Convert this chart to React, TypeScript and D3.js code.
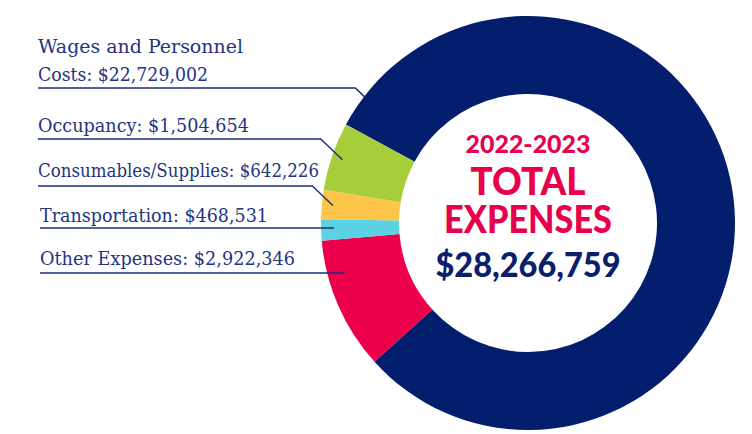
import React from 'react';
import * as d3 from 'd3';

// expense categories in drawing order (clockwise from the wages slice)
const categories = ['Wages and Personnel Costs', 'Other Expenses', 'Transportation', 'Consumables/Supplies', 'Occupancy'];
const values = [22729002, 2922346, 468531, 642226, 1504654];
const colors = ['#021e6c', '#ec004b', '#5ad2e4', '#fdc64b', '#a6ce3a'];
const labelLines = [
  ['Wages and Personnel', 'Costs: $22,729,002'],
  ['Other Expenses: $2,922,346'],
  ['Transportation: $468,531'],
  ['Consumables/Supplies: $642,226'],
  ['Occupancy: $1,504,654'],
];
const centerLines = ['2022-2023', 'TOTAL', 'EXPENSES', '$28,266,759'];

const W = 752;
const H = 434;
const cx = 528;
const cy = 223;
const outerR = 207;
const innerR = 129;
const startDeg = -61.6;

// label layout: baseline of last line, underline y, text widths
const labelBase = [81, 265, 222, 177, 132];
const underY = [88, 273, 228, 186, 139];
const labelX = [38, 40, 40, 38, 38];
const labelW = [[205, 170], [255], [228], [281], [211]];
// where the leader points inside each slice (fraction along the slice), null = horizontal
const leaderT: (number | null)[] = [0.032, null, null, 0.5, 0.5];
const leaderR = [206, 190, 194, 196, 196];

const navy = '#1d2c78';

export default function App() {
  const pie = d3.pie<number>()
    .sort(null)
    .value(d => d)
    .startAngle((startDeg * Math.PI) / 180)
    .endAngle((startDeg * Math.PI) / 180 + Math.PI * 2);
  const arcs = pie(values);
  const arc = d3.arc<d3.PieArcDatum<number>>().innerRadius(innerR).outerRadius(outerR);

  const leaders = arcs.map((a, i) => {
    const t = leaderT[i];
    const r = leaderR[i];
    const y0 = underY[i];
    if (t === null) {
      const dy = y0 - cy;
      const ex = cx - Math.sqrt(r * r - dy * dy);
      return `M${labelX[i]},${y0}H${ex}`;
    }
    const ang = a.startAngle + (a.endAngle - a.startAngle) * t;
    const ex = cx + r * Math.sin(ang);
    const ey = cy - r * Math.cos(ang);
    const elbow = ex - (ey - y0) * 1.05;
    return `M${labelX[i]},${y0}H${elbow}L${ex},${ey}`;
  });

  return (
    <svg width={W} height={H} style={{ position: 'absolute', left: 0, top: 0, background: '#fff' }}>
      <g transform={`translate(${cx},${cy})`}>
        {arcs.map((a, i) => (
          <path key={categories[i]} d={arc(a) || ''} fill={colors[i]} />
        ))}
      </g>
      {leaders.map((d, i) => (
        <path key={'l' + i} d={d} fill="none" stroke={navy} strokeWidth={1.4} />
      ))}
      {labelLines.map((lines, i) =>
        lines.map((s, j) => (
          <text
            key={'t' + i + '-' + j}
            x={labelX[i]}
            y={labelBase[i] - (lines.length - 1 - j) * 28}
            fontFamily="'DejaVu Serif', serif"
            fontSize={19}
            fill="#243483"
            textLength={labelW[i][j]}
            lengthAdjust="spacingAndGlyphs"
          >
            {s}
          </text>
        ))
      )}
      <g fontFamily="Lato, 'Open Sans', sans-serif" fontWeight={900} textAnchor="middle">
        <text x={cx} y={153} fontSize={25} fill="#e8004c" textLength={125} lengthAdjust="spacingAndGlyphs">{centerLines[0]}</text>
        <text x={cx} y={195} fontSize={38} fill="#e8004c" textLength={115} lengthAdjust="spacingAndGlyphs">{centerLines[1]}</text>
        <text x={cx} y={233} fontSize={37} fill="#e8004c" textLength={168} lengthAdjust="spacingAndGlyphs">{centerLines[2]}</text>
        <text x={cx} y={277} fontSize={35} fill="#0b1f6c" textLength={185} lengthAdjust="spacingAndGlyphs">{centerLines[3]}</text>
      </g>
    </svg>
  );
}
